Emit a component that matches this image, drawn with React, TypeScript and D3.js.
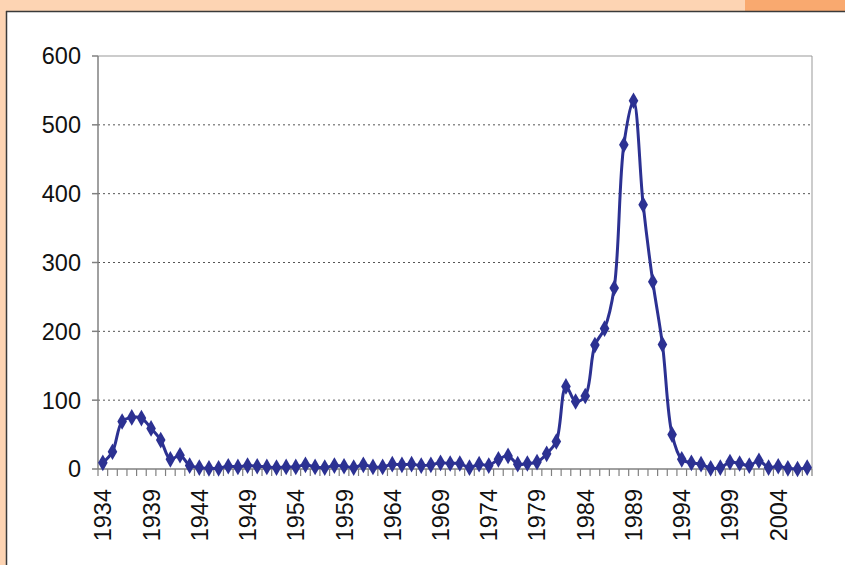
import React from 'react';
import * as d3 from 'd3';

// Yearly values 1934-2007
const years: number[] = d3.range(1934, 2008);
const values: number[] = [
  9, 25, 69, 75, 74, 59, 42, 14, 20, 5,
  2, 1, 1, 4, 3, 5, 4, 3, 2, 3,
  3, 6, 3, 2, 5, 4, 2, 6, 3, 3,
  7, 6, 7, 5, 6, 9, 8, 8, 2, 7,
  5, 14, 19, 7, 8, 10, 22, 40, 120, 98,
  106, 180, 204, 263, 471, 535, 384, 272, 181, 50,
  14, 9, 7, 1, 2, 10, 8, 5, 12, 2,
  4, 1, 0, 2,
];
const yTicks: number[] = [0, 100, 200, 300, 400, 500, 600];
const xLabelYears: number[] = d3.range(1934, 2008, 5);

const W = 845;
const H = 565;
const margin = { left: 98, right: 33, top: 56, bottom: 96 };

export default function App() {
  const innerRight = W - margin.right;
  const innerBottom = H - margin.bottom;

  const x = d3
    .scaleBand<number>()
    .domain(years)
    .range([margin.left, innerRight])
    .padding(0);
  const y = d3.scaleLinear().domain([0, 600]).range([innerBottom, margin.top]);

  const cx = (yr: number) => (x(yr) as number) + x.bandwidth() / 2;

  const line = d3
    .line<number>()
    .x((d, i) => cx(years[i]))
    .y((d) => y(d))
    .curve(d3.curveCatmullRom.alpha(0.5));

  const diamond = d3.symbol().type(d3.symbolDiamond).size(80)() as string;

  const font = 'Liberation Sans, Arial, sans-serif';
  const axisColor = '#808080';
  const lineColor = '#2c3192';

  return (
    <svg
      width={W}
      height={H}
      style={{ position: 'absolute', left: 0, top: 0, display: 'block' }}
    >
      {/* page background */}
      <rect x={0} y={0} width={W} height={H} fill="#fdd4b3" />
      <rect x={745} y={0} width={100} height={11} fill="#f9a96f" />
      <rect x={6} y={11} width={W - 6} height={H - 11} fill="#ffffff" />
      <line x1={6} y1={11.5} x2={W} y2={11.5} stroke="#3a3a3a" strokeWidth={1.5} />
      <line x1={6.5} y1={11} x2={6.5} y2={H} stroke="#3a3a3a" strokeWidth={1.5} />

      {/* grid lines */}
      {yTicks.slice(1, -1).map((t) => (
        <line
          key={'g' + t}
          x1={margin.left}
          x2={innerRight}
          y1={y(t)}
          y2={y(t)}
          stroke="#555"
          strokeWidth={1}
          strokeDasharray="2,3"
        />
      ))}

      {/* plot border top/right */}
      <line x1={margin.left} x2={innerRight} y1={y(600)} y2={y(600)} stroke="#999" strokeWidth={1} />
      <line x1={innerRight} x2={innerRight} y1={y(600)} y2={innerBottom} stroke="#999" strokeWidth={1} />

      {/* y axis */}
      <line x1={margin.left} x2={margin.left} y1={y(600)} y2={innerBottom} stroke={axisColor} strokeWidth={1.5} />
      {yTicks.map((t) => (
        <g key={'y' + t}>
          <line x1={margin.left - 6} x2={margin.left} y1={y(t)} y2={y(t)} stroke={axisColor} strokeWidth={1.5} />
          <text
            x={margin.left - 17}
            y={y(t)}
            dy="0.36em"
            textAnchor="end"
            fontFamily={font}
            fontSize={23.5}
            fill="#111"
          >
            {t}
          </text>
        </g>
      ))}

      {/* x axis */}
      <line x1={margin.left} x2={innerRight} y1={innerBottom} y2={innerBottom} stroke={axisColor} strokeWidth={1.5} />
      {years.concat([years[years.length - 1] + 1]).map((yr, i) => {
        const xx = i < years.length ? (x(yr) as number) : innerRight;
        return (
          <line
            key={'t' + yr}
            x1={xx}
            x2={xx}
            y1={innerBottom}
            y2={innerBottom + 7}
            stroke={axisColor}
            strokeWidth={1.2}
          />
        );
      })}
      {xLabelYears.map((yr) => (
        <text
          key={'xl' + yr}
          transform={`translate(${cx(yr)},${innerBottom + 20}) rotate(-90)`}
          dy="0.36em"
          textAnchor="end"
          fontFamily={font}
          fontSize={23.5}
          fill="#111"
        >
          {yr}
        </text>
      ))}

      {/* series */}
      <path d={line(values) as string} fill="none" stroke={lineColor} strokeWidth={3} />
      {values.map((v, i) => (
        <path
          key={'m' + i}
          d={diamond}
          transform={`translate(${cx(years[i])},${y(v)})`}
          fill={lineColor}
        />
      ))}
    </svg>
  );
}
